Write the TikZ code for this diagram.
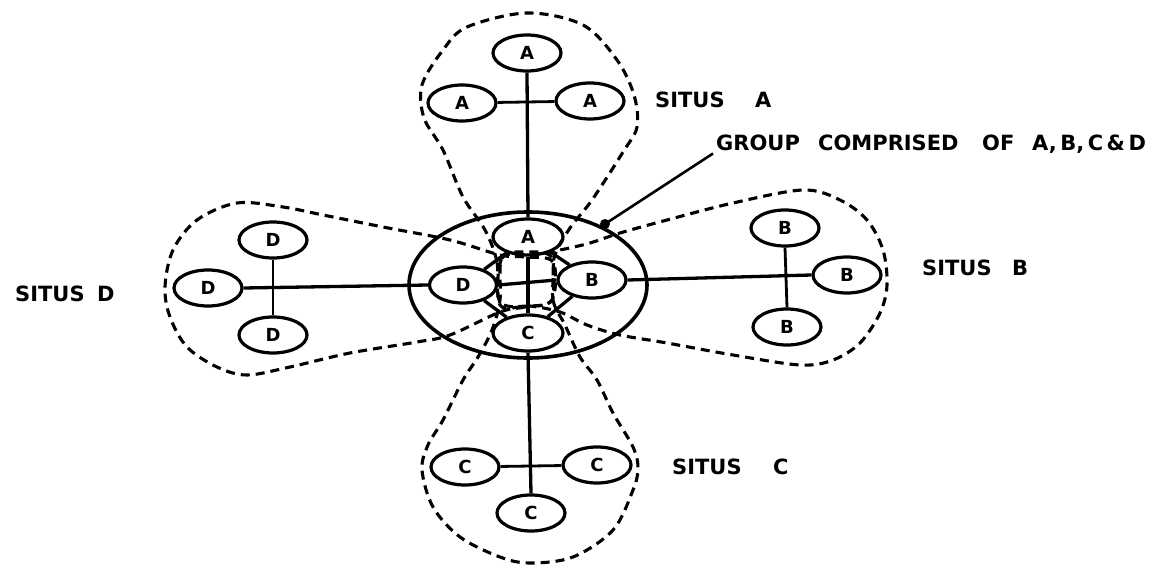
\documentclass[tikz,border=0pt]{standalone}
\usepackage{fontspec}
\setmainfont{DejaVu Sans}
\usetikzlibrary{shapes.geometric}
\begin{document}
\begin{tikzpicture}[x=1pt,y=-1pt,
  site/.style={draw, ellipse, line width=3.2pt, minimum width=68pt, minimum height=36pt, inner sep=0pt, font=\fontsize{18}{18}\selectfont\bfseries},
  conn/.style={line width=3.3pt},
  thinconn/.style={line width=2.8pt},
  lobe/.style={line width=3.1pt, dash pattern=on 9pt off 6pt},
  lbl/.style={anchor=west, inner sep=0pt, font=\fontsize{21}{21}\selectfont\bfseries}]
\useasboundingbox (0,0) rectangle (1169,569);

% group ellipse
\node[draw, ellipse, line width=3.6pt, minimum width=238pt, minimum height=146pt] (grp) at (528,285) {};

% lobes (situs boundaries)
\draw[lobe] plot[smooth cycle, tension=0.55] coordinates {
  (500,302) (497,262) (485,230) (463,197) (443,150) (424,118) (422,85)
  (443,50) (467,27) (527,13) (583,25) (617,60) (634,95) (637,127)
  (623,152) (592,200) (570,228) (554,258) (552,300) (527,306)};
\draw[lobe] plot[smooth cycle, tension=0.55] coordinates {
  (552,258) (553,300) (565,325) (580,357) (597,380) (613,413) (633,447)
  (638,468) (633,490) (613,530) (573,557) (530,563) (500,557) (460,537)
  (433,507) (422,470) (428,445) (443,420) (463,380) (478,357) (492,330)
  (500,300) (502,258) (527,252)};
\draw[lobe] plot[smooth cycle, tension=0.55] coordinates {
  (552,300) (525,307) (500,312) (450,335) (417,342) (350,353) (290,367)
  (247,375) (217,367) (187,347) (170,317) (165,287) (173,250) (197,220)
  (237,203) (283,207) (323,215) (383,227) (450,240) (500,255) (525,257)
  (553,262)};
\draw[lobe] plot[smooth cycle, tension=0.55] coordinates {
  (500,305) (502,258) (530,255) (560,250) (590,243) (620,233) (667,220)
  (733,203) (803,190) (840,200) (867,220) (883,250) (887,285) (880,313)
  (860,343) (833,360) (800,365) (733,355) (667,343) (620,335) (587,325)
  (560,312) (530,306)};

% inner group nodes
\node[site, minimum width=70pt] (ai) at (528,237) {A};
\node[site, minimum width=68pt] (bi) at (592,280) {B};
\node[site, minimum width=70pt] (ci) at (528,333) {C};
\node[site, minimum width=67pt] (di) at (463,285) {D};

% situs A
\node[site] (a1) at (527,53) {A};
\node[site] (a2) at (462,103) {A};
\node[site] (a3) at (590,101) {A};
% situs B
\node[site] (b1) at (785,228) {B};
\node[site] (b2) at (847,275) {B};
\node[site] (b3) at (787,327) {B};
% situs C
\node[site] (c1) at (465,467) {C};
\node[site] (c2) at (597,465) {C};
\node[site] (c3) at (531,513) {C};
% situs D
\node[site] (d1) at (273,240) {D};
\node[site] (d2) at (208,288) {D};
\node[site] (d3) at (273,335) {D};

% connectors
\draw[conn] (a1.south) -- (ai.north);
\draw[thinconn] (a2) -- (a3);
\draw[conn] (bi.east) -- (b2.west);
\draw[thinconn] (b1.south) -- (b3.north);
\draw[conn] (ci.south) -- (c3.north);
\draw[thinconn] (c1) -- (c2);
\draw[conn] (d2.east) -- (di.west);
\draw[thinconn] (d1.south) -- (d3.north);

\draw[conn] (ai.south) -- (ci.north);
\draw[conn] (di.east) -- (bi.west);
\draw[conn] (ai) -- (di);
\draw[conn] (di) -- (ci);
\draw[conn] (ci) -- (bi);
\draw[conn] (bi) -- (ai);

% labels
\node[lbl] (la) at (655,100) {\makebox[100pt][l]{SITUS}A};
\node[lbl] (lb) at (922,268) {\makebox[90pt][l]{SITUS}B};
\node[lbl] (lc) at (672,467) {\makebox[101pt][l]{SITUS}C};
\node[lbl] (ld) at (15,294) {\makebox[82pt][l]{SITUS}D};
\node[lbl, font=\fontsize{21}{21}\selectfont\bfseries] (grplbl) at (716,144)
  {\makebox[102pt][l]{GROUP}\makebox[164pt][l]{COMPRISED}\makebox[50pt][l]{OF}A,\,B,\,C\,\&\,D};

\coordinate (dot) at (605,224);
\fill (dot) circle (5pt);
\draw[line width=2.6pt] (dot) -- ([xshift=-3pt]grplbl.south west);
\end{tikzpicture}
\end{document}
